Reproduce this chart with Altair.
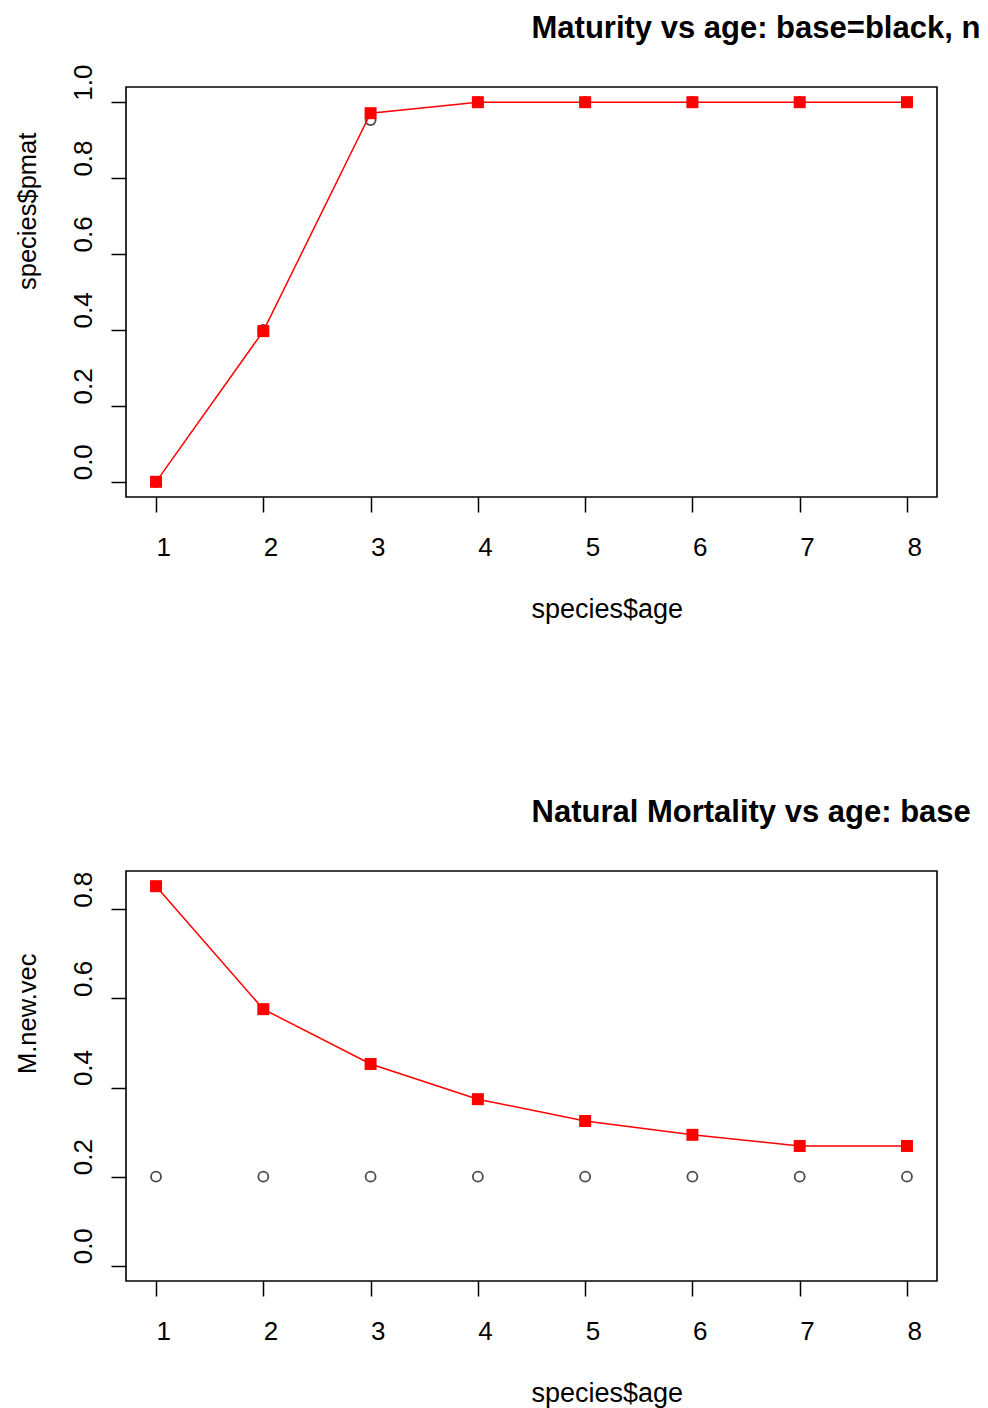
import altair as alt
import pandas as pd

# age classes and the two scenarios (base vs new) for each panel
ages = [1, 2, 3, 4, 5, 6, 7, 8]
pmat_base = [0.0, 0.4, 0.953, 1.0, 1.0, 1.0, 1.0, 1.0]
pmat_new = [0.0, 0.397, 0.971, 1.0, 1.0, 1.0, 1.0, 1.0]
m_base = [0.2, 0.2, 0.2, 0.2, 0.2, 0.2, 0.2, 0.2]
m_new = [0.852, 0.576, 0.453, 0.374, 0.325, 0.294, 0.269, 0.269]

x_ticks = [1, 2, 3, 4, 5, 6, 7, 8]
pmat_ticks = [0.0, 0.2, 0.4, 0.6, 0.8, 1.0]
m_ticks = [0.0, 0.2, 0.4, 0.6, 0.8]

W, H = 811, 410
FONT = "Liberation Sans"


def text_layer(txt, x, y, size, weight="normal", angle=0, limit=0):
    opts = dict(text=txt, align="left", baseline="alphabetic", font=FONT,
                fontSize=size, fontWeight=weight, angle=angle, color="black")
    if limit:
        opts.update(limit=limit, ellipsis="\u200b")
    return alt.Chart(alt.Data(values=[{}])).mark_text(**opts).encode(
        x=alt.value(x), y=alt.value(y))


def panel(base, new, ylim, yticks, title, xlab, ylab):
    df = pd.DataFrame({"age": ages, "base": base, "new": new})
    x = alt.X("age:Q",
              scale=alt.Scale(domain=[0.72, 8.28], nice=False, zero=False),
              axis=alt.Axis(values=x_ticks, format="d", title=None,
                            labelAlign="left", labelBaseline="top",
                            labelPadding=22, labelOffset=0))
    lo, hi = ylim
    ext = (hi - lo) * 0.04
    yscale = alt.Scale(domain=[lo - ext, hi + ext], nice=False, zero=False)
    yaxis = alt.Axis(values=yticks, format=".1f", title=None,
                     labelAngle=270, labelAlign="left",
                     labelBaseline="alphabetic", labelPadding=20,
                     labelOffset=-2)
    chart = alt.Chart(df)
    circles = chart.mark_point(shape="circle", filled=False, color="black",
                               strokeWidth=1.8, size=100).encode(
        x=x, y=alt.Y("base:Q", scale=yscale, axis=yaxis))
    line = chart.mark_line(color="#ff0000", strokeWidth=1.5).encode(
        x=x, y=alt.Y("new:Q", scale=yscale, axis=yaxis))
    squares = chart.mark_square(color="#ff0000", filled=True, size=144,
                                opacity=1).encode(
        x=x, y=alt.Y("new:Q", scale=yscale, axis=yaxis))
    # the heading runs past the right edge of the page, so it is cut there
    t = text_layer(title, W / 2, -49, 31, weight="bold", limit=453)
    xl = text_layer(xlab, W / 2, H + 121, 27)
    yl = text_layer(ylab, -90, H / 2 - 2, 25.5, angle=270)
    return alt.layer(circles, line, squares, t, xl, yl).properties(
        width=W, height=H)


top = panel(pmat_base, pmat_new, (0.0, 1.0), pmat_ticks,
            "Maturity vs age: base=black, new=red",
            "species$age", "species$pmat")
bottom = panel(m_base, m_new, (0.0, 0.852), m_ticks,
               "Natural Mortality vs age: base=black, new=red",
               "species$age", "M.new.vec")

chart = alt.vconcat(top, bottom, spacing=374, bounds="flush").properties(
    padding={"top": 12, "left": 15, "right": 0, "bottom": 0},
    background="white",
).configure_view(
    stroke="black", strokeWidth=1.6,
).configure_axis(
    domain=False, grid=False, ticks=True, tickColor="black", tickSize=15,
    tickWidth=1.5, labelColor="black", labelFont=FONT, labelFontSize=26,
    labelFlush=False, labelOverlap=False,
)

chart.save("out.html", embed_options={"renderer": "svg", "actions": False})
